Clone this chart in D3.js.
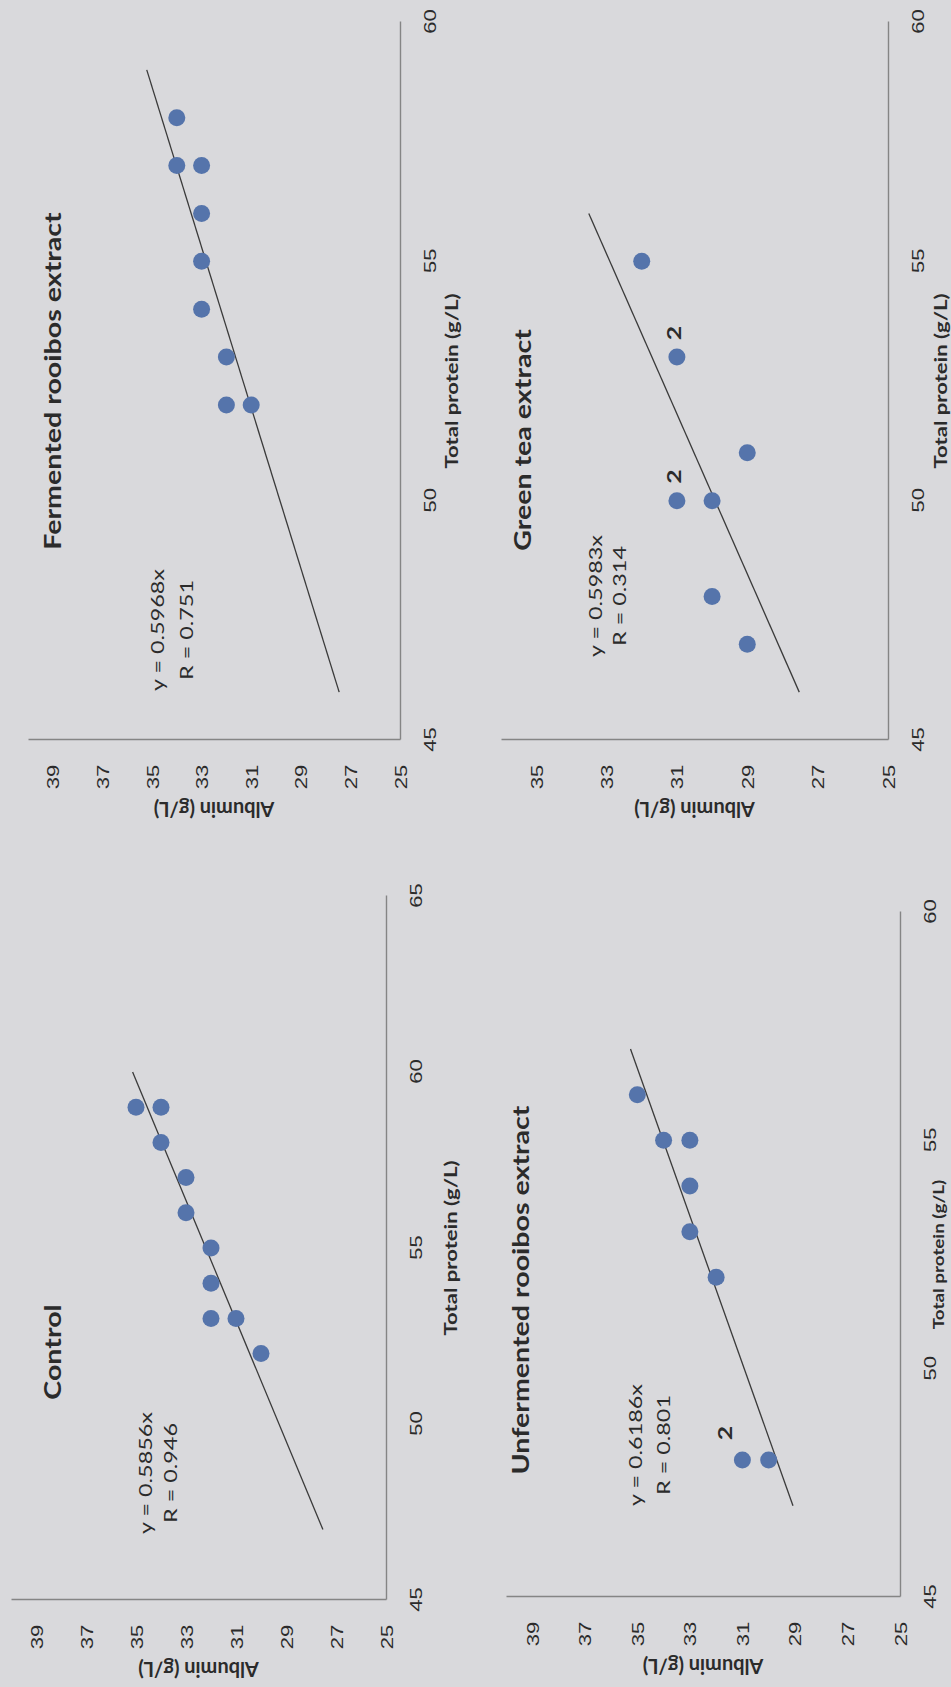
<!DOCTYPE html>
<html>
<head>
<meta charset="utf-8">
<script src="https://cdnjs.cloudflare.com/ajax/libs/d3/7.8.5/d3.min.js"></script>
<style>
    body { margin: 0; background: #d9d9dc; }
    svg { display: block; font-family: Lato, "Open Sans", sans-serif; }
</style>
</head>
<body>
<div id="chart"></div>
<script>
// values (total protein vs albumin, g/L)
const controlProtein = [59, 59, 58, 57, 56, 55, 54, 53, 53, 52];
const controlAlbumin = [35, 34, 34, 33, 33, 32, 32, 32, 31, 30];

const unfermProtein = [56, 55, 55, 54, 53, 52, 48, 48];
const unfermAlbumin = [35, 34, 33, 33, 33, 32, 31, 30];

const fermProtein = [58, 57, 57, 56, 55, 54, 53, 52, 52];
const fermAlbumin = [34, 34, 33, 33, 33, 33, 32, 32, 31];

const greenProtein = [55, 53, 51, 50, 50, 48, 47];
const greenAlbumin = [32, 31, 29, 31, 30, 30, 29];

const panelTitles = ["Control", "Unfermented rooibos extract", "Fermented rooibos extract", "Green tea extract"];
const slopes = [0.5856, 0.6186, 0.5968, 0.5983];
const rValues = ["0.946", "0.801", "0.751", "0.314"];
const fitRanges = [[47, 60], [47, 57], [46, 59], [46, 56]];
const xDomains = [[45, 65], [45, 60], [45, 60], [45, 60]];
const yDomains = [[25, 40], [25, 40], [25, 40], [25, 36]];
const xTicks = [[45, 50, 55, 60, 65], [45, 50, 55, 60], [45, 50, 55, 60], [45, 50, 55, 60]];
const yTicks = [[25, 27, 29, 31, 33, 35, 37, 39], [25, 27, 29, 31, 33, 35, 37, 39], [25, 27, 29, 31, 33, 35, 37, 39], [25, 27, 29, 31, 33, 35]];
// points that stand for two animals, marked "2"
const duplicates = [[], [[48, 31]], [], [[53, 31], [50, 31]]];

const width = 951;
const height = 1687;
const STRETCH = 1.3; // scan is stretched along the protein axis

// layout in the landscape page (before it is turned)
const layout = [
    { box: [87, 791, 386, 11], title: [335, 52], eq: [214, 145, 25], xTitleY: 451, xTitleSize: 17, dupOff: [27, -18] },
    { box: [90, 775, 900, 506], title: [397, 520], eq: [242, 635, 28], xTitleY: 938, xTitleSize: 14.5, dupOff: [27, -18] },
    { box: [947, 1665, 400, 28], title: [1306, 52], eq: [1057, 157, 29], xTitleY: 452, xTitleSize: 17, dupOff: [24, -3] },
    { box: [947, 1665, 888, 501], title: [1247, 522], eq: [1091, 595, 24], xTitleY: 941, xTitleSize: 17, dupOff: [24, -3] }
];

const proteins = [controlProtein, unfermProtein, fermProtein, greenProtein];
const albumins = [controlAlbumin, unfermAlbumin, fermAlbumin, greenAlbumin];

const svg = d3.select("#chart")
    .append("svg")
    .attr("width", width)
    .attr("height", height);

svg.append("rect")
    .attr("width", width)
    .attr("height", height)
    .attr("fill", "#d9d9dc");

// the page was scanned sideways: draw landscape, then rotate
const page = svg.append("g")
    .attr("transform", `translate(0,${height}) rotate(-90)`);

const textColor = "#2b2b2b";
const dotColor = "#5574ab";

panelTitles.forEach((title, i) => {
    const L = layout[i];
    const x = d3.scaleLinear().domain(xDomains[i]).range([L.box[0], L.box[1]]);
    const y = d3.scaleLinear().domain(yDomains[i]).range([L.box[2], L.box[3]]);
    const g = page.append("g").attr("class", "panel");

    // y axis (albumin)
    const yAxis = g.append("g")
        .attr("transform", `translate(${L.box[0]},0)`)
        .call(d3.axisLeft(y).tickValues(yTicks[i]).tickSize(0).tickSizeOuter(0));
    yAxis.select(".domain").attr("stroke", "#858585").attr("stroke-width", 1.4);
    yAxis.selectAll("text")
        .attr("x", null).attr("dy", null)
        .attr("text-anchor", "middle")
        .attr("dominant-baseline", "central")
        .attr("transform", `translate(-37,0) scale(${STRETCH},1)`)
        .attr("fill", textColor)
        .style("font-size", "17px");

    // x axis (total protein)
    const xAxis = g.append("g")
        .attr("transform", `translate(0,${L.box[2]})`)
        .call(d3.axisBottom(x).tickValues(xTicks[i]).tickSize(0).tickSizeOuter(0));
    xAxis.select(".domain").attr("stroke", "#858585").attr("stroke-width", 1.4);
    xAxis.selectAll("text")
        .attr("y", null).attr("dy", null)
        .attr("text-anchor", "middle")
        .attr("dominant-baseline", "central")
        .attr("transform", `translate(0,30) scale(${STRETCH},1)`)
        .attr("fill", textColor)
        .style("font-size", "17px");

    // axis titles
    g.append("text")
        .attr("transform", `translate(${(L.box[0] + L.box[1]) / 2},${L.xTitleY}) scale(${STRETCH},1)`)
        .attr("text-anchor", "middle")
        .attr("dominant-baseline", "central")
        .attr("fill", textColor)
        .style("font-size", L.xTitleSize + "px")
        .style("font-weight", "bold")
        .text("Total protein (g/L)");

    g.append("text")
        .attr("transform", `translate(${L.box[0] - 70},${(L.box[2] + y(40 > yDomains[i][1] ? yDomains[i][1] : 40)) / 2}) rotate(-90)`)
        .attr("text-anchor", "middle")
        .attr("dominant-baseline", "central")
        .attr("fill", textColor)
        .style("font-size", "20px")
        .style("font-weight", "bold")
        .text("Albumin (g/L)");

    // panel title
    g.append("text")
        .attr("transform", `translate(${L.title[0]},${L.title[1]}) scale(${STRETCH},1)`)
        .attr("text-anchor", "middle")
        .attr("dominant-baseline", "central")
        .attr("fill", textColor)
        .style("font-size", "22px")
        .style("font-weight", "bold")
        .text(title);

    // trend line through the origin
    const fit = fitRanges[i].map(p => [p, slopes[i] * p]);
    g.append("path")
        .datum(fit)
        .attr("fill", "none")
        .attr("stroke", "#3a3a3a")
        .attr("stroke-width", 1.3)
        .attr("d", d3.line().x(d => x(d[0])).y(d => y(d[1])));

    // equation and R
    [`y = ${slopes[i]}x`, `R = ${rValues[i]}`].forEach((t, k) => {
        g.append("text")
            .attr("transform", `translate(${L.eq[0]},${L.eq[1] + k * L.eq[2]}) scale(${STRETCH},1)`)
            .attr("text-anchor", "middle")
            .attr("dominant-baseline", "central")
            .attr("fill", textColor)
            .style("font-size", "18px")
            .text(t);
    });

    // points
    g.selectAll("circle")
        .data(proteins[i].map((p, k) => [p, albumins[i][k]]))
        .enter()
        .append("circle")
        .attr("cx", d => x(d[0]))
        .attr("cy", d => y(d[1]))
        .attr("r", 8.5)
        .attr("fill", dotColor);

    // "2" markers for overlapping points
    g.selectAll("text.dup")
        .data(duplicates[i])
        .enter()
        .append("text")
        .attr("class", "dup")
        .attr("transform", d => `translate(${x(d[0]) + L.dupOff[0]},${y(d[1]) + L.dupOff[1]}) scale(${STRETCH},1)`)
        .attr("text-anchor", "middle")
        .attr("dominant-baseline", "central")
        .attr("fill", textColor)
        .style("font-size", "19px")
        .style("font-weight", "bold")
        .text("2");
});
</script>
</body>
</html>
